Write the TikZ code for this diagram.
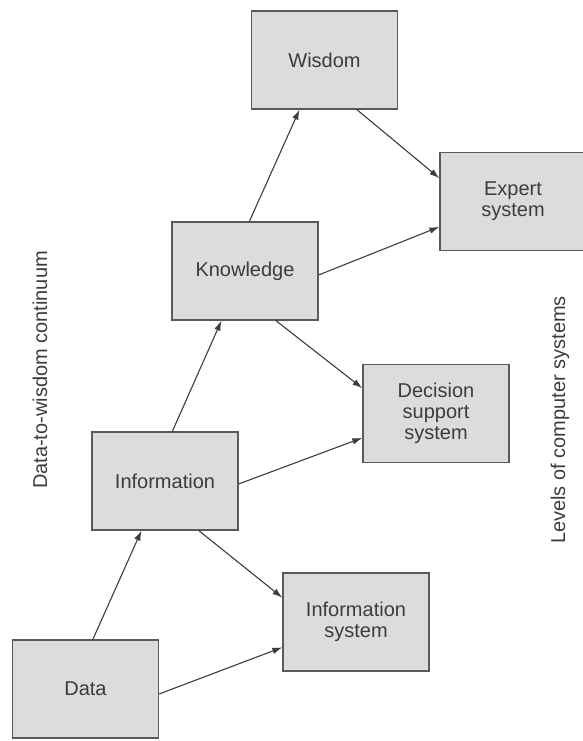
\documentclass[tikz,border=0pt]{standalone}
\usepackage{fontspec}
\setmainfont{Liberation Sans}
\usetikzlibrary{arrows.meta,calc}
\definecolor{boxfill}{HTML}{DCDCDC}
\definecolor{boxline}{HTML}{5A5A5A}
\definecolor{inkc}{HTML}{3C3C3C}
\begin{document}
\begin{tikzpicture}[x=1pt,y=-1pt,
  levelbox/.style={draw=boxline,fill=boxfill,line width=1.3pt,minimum width=146pt,minimum height=98pt,inner sep=0pt,align=center,text=inkc,font=\fontsize{20}{21}\selectfont},
  conn/.style={draw=inkc,line width=1.1pt,-{Latex[length=10pt,width=6.5pt]}},
  sidelabel/.style={rotate=90,text=inkc,font=\fontsize{20}{21}\selectfont,inner sep=0pt}]
\useasboundingbox (0,0) rectangle (583,741);
\node[levelbox] (wis) at (324.5,60) {Wisdom};
\node[levelbox] (exp) at (513,201.5) {Expert\\system};
\node[levelbox] (kno) at (245,271) {Knowledge};
\node[levelbox] (inf) at (165,481) {Information};
\node[levelbox] (dss) at (436,413.5) {Decision\\support\\system};
\node[levelbox] (ins) at (356,622) {Information\\system};
\node[levelbox] (dat) at (85.5,689) {Data};
\node[sidelabel] (lleft) at (40,370) {Data-to-wisdom continuum};
\node[sidelabel] (lright) at (560,420) {Levels of computer systems};
% upward arrows
\draw[conn] ($(dat.north west)!0.55!(dat.north east)$) -- ($(inf.south west)!0.34!(inf.south east)$);
\draw[conn] ($(inf.north west)!0.55!(inf.north east)$) -- ($(kno.south west)!0.34!(kno.south east)$);
\draw[conn] ($(kno.north west)!0.53!(kno.north east)$) -- ($(wis.south west)!0.33!(wis.south east)$);
% rightward arrows
\draw[conn] ($(dat.north east)!0.55!(dat.south east)$) -- ($(ins.north west)!0.755!(ins.south west)$);
\draw[conn] ($(inf.north east)!0.53!(inf.south east)$) -- ($(dss.north west)!0.745!(dss.south west)$);
\draw[conn] ($(kno.north east)!0.54!(kno.south east)$) -- ($(exp.north west)!0.755!(exp.south west)$);
% down-right arrows
\draw[conn] ($(inf.south west)!0.73!(inf.south east)$) -- ($(ins.north west)!0.255!(ins.south west)$);
\draw[conn] ($(kno.south west)!0.71!(kno.south east)$) -- ($(dss.north west)!0.245!(dss.south west)$);
\draw[conn] ($(wis.south west)!0.72!(wis.south east)$) -- ($(exp.north west)!0.265!(exp.south west)$);
\end{tikzpicture}
\end{document}
